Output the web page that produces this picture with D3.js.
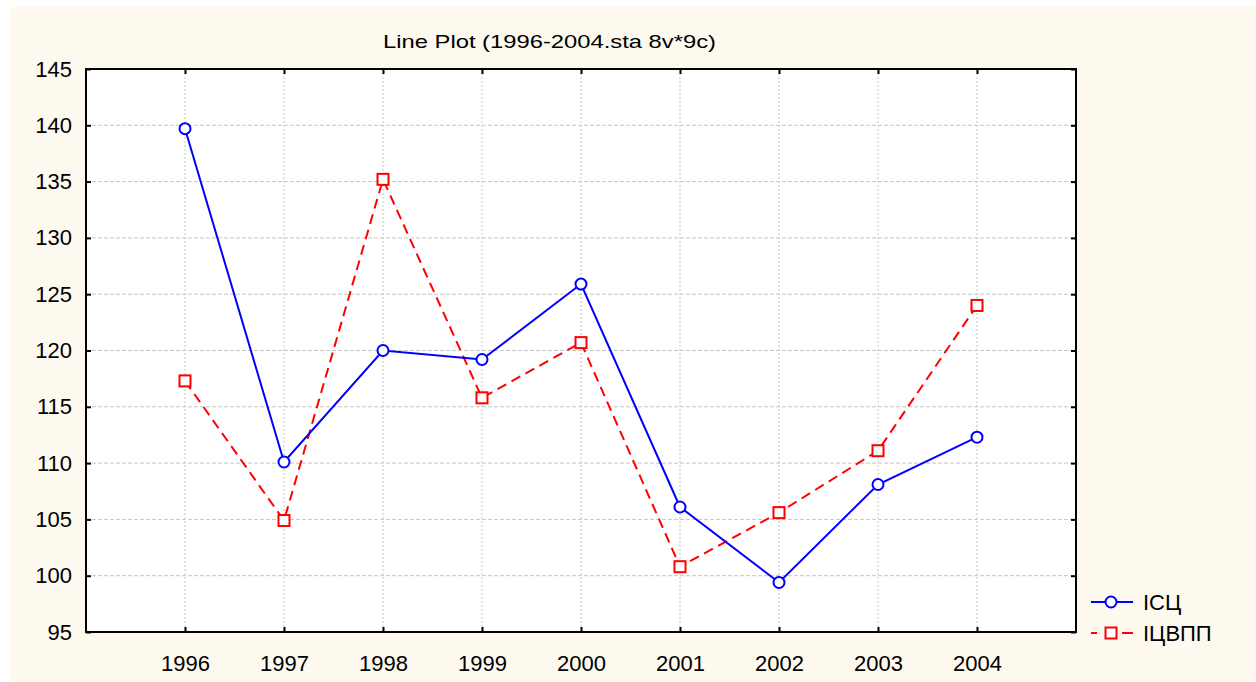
<!DOCTYPE html>
<html>
<head>
<meta charset="utf-8">
<script src="https://cdn.jsdelivr.net/npm/d3@7"></script>
<style>
  body { margin: 0; background: #fff; }
  svg { display: block; font-family: Arial, "Liberation Sans", sans-serif; }
</style>
</head>
<body>
<svg width="1256" height="682"></svg>
<script>
const years = [1996, 1997, 1998, 1999, 2000, 2001, 2002, 2003, 2004];
const iscValues = [139.7, 110.1, 120.0, 119.2, 125.9, 106.1, 99.4, 108.1, 112.3];
const icvppValues = [117.3, 104.9, 135.2, 115.8, 120.7, 100.8, 105.6, 111.1, 124.0];
const yTicks = [95, 100, 105, 110, 115, 120, 125, 130, 135, 140, 145];
const seriesNames = ['ІСЦ', 'ІЦВПП'];
const chartTitle = 'Line Plot (1996-2004.sta 8v*9c)';

const svg = d3.select('svg');
const pLeft = 86, pRight = 1076, pTop = 69, pBottom = 632;

// cream page area
svg.append('rect').attr('x', 10).attr('y', 7).attr('width', 1246).attr('height', 675)
  .attr('fill', '#fdf9ef');

const x = d3.scaleLinear().domain([1995, 2005]).range([pLeft, pRight]);
const y = d3.scaleLinear().domain([95, 145]).range([pBottom, pTop]);

svg.append('rect').attr('x', pLeft).attr('y', pTop)
  .attr('width', pRight - pLeft).attr('height', pBottom - pTop).attr('fill', '#fff');

// grid
svg.append('g').selectAll('line').data(yTicks.slice(1, -1)).join('line')
  .attr('x1', pLeft).attr('x2', pRight)
  .attr('y1', d => y(d)).attr('y2', d => y(d))
  .attr('stroke', '#c6c6c6').attr('stroke-dasharray', '4,2');
svg.append('g').selectAll('line').data(years).join('line')
  .attr('x1', d => x(d)).attr('x2', d => x(d))
  .attr('y1', pTop).attr('y2', pBottom)
  .attr('stroke', '#c6c6c6').attr('stroke-dasharray', '2,2');

// axes with inward ticks on all four sides
const axL = svg.append('g').attr('transform', `translate(${pLeft},0)`)
  .call(d3.axisLeft(y).tickValues(yTicks).tickSizeInner(-5).tickSizeOuter(0).tickPadding(14));
const axR = svg.append('g').attr('transform', `translate(${pRight},0)`)
  .call(d3.axisRight(y).tickValues(yTicks).tickSizeInner(-5).tickSizeOuter(0).tickFormat(''));
const axB = svg.append('g').attr('transform', `translate(0,${pBottom})`)
  .call(d3.axisBottom(x).tickValues(years).tickFormat(d3.format('d')).tickSizeInner(-5).tickSizeOuter(0).tickPadding(23));
const axT = svg.append('g').attr('transform', `translate(0,${pTop})`)
  .call(d3.axisTop(x).tickValues(years).tickSizeInner(-5).tickSizeOuter(0).tickFormat(''));
[axL, axR, axB, axT].forEach(a => {
  a.select('.domain').remove();
  a.selectAll('.tick line').attr('stroke', '#000').attr('stroke-width', 2);
  a.selectAll('text').attr('font-size', 22).attr('fill', '#000').attr('font-family', 'Arial, "Liberation Sans", sans-serif');
});

svg.append('rect').attr('x', pLeft).attr('y', pTop)
  .attr('width', pRight - pLeft).attr('height', pBottom - pTop)
  .attr('fill', 'none').attr('stroke', '#000').attr('stroke-width', 2);

// title
svg.append('text').attr('x', 383).attr('y', 48).attr('font-size', 19)
  .attr('textLength', 333).attr('lengthAdjust', 'spacingAndGlyphs')
  .text(chartTitle);

const line = d3.line().x((d, i) => x(years[i])).y(d => y(d));

svg.append('path').datum(icvppValues).attr('d', line)
  .attr('fill', 'none').attr('stroke', '#ff0000').attr('stroke-width', 2)
  .attr('stroke-dasharray', '10,6');
svg.append('path').datum(iscValues).attr('d', line)
  .attr('fill', 'none').attr('stroke', '#0000ff').attr('stroke-width', 2);

svg.append('g').selectAll('rect').data(icvppValues).join('rect')
  .attr('x', (d, i) => x(years[i]) - 5.5).attr('y', d => y(d) - 5.5)
  .attr('width', 11).attr('height', 11)
  .attr('fill', '#fff').attr('stroke', '#ff0000').attr('stroke-width', 2);
svg.append('g').selectAll('circle').data(iscValues).join('circle')
  .attr('cx', (d, i) => x(years[i])).attr('cy', d => y(d)).attr('r', 5.5)
  .attr('fill', '#fff').attr('stroke', '#0000ff').attr('stroke-width', 2);

// legend
const lg = svg.append('g');
lg.append('line').attr('x1', 1091).attr('x2', 1133).attr('y1', 602).attr('y2', 602)
  .attr('stroke', '#0000ff').attr('stroke-width', 2);
lg.append('circle').attr('cx', 1111).attr('cy', 602).attr('r', 5.5)
  .attr('fill', '#fff').attr('stroke', '#0000ff').attr('stroke-width', 2);
lg.append('line').attr('x1', 1091).attr('x2', 1133).attr('y1', 633).attr('y2', 633)
  .attr('stroke', '#ff0000').attr('stroke-width', 2).attr('stroke-dasharray', '6,25,11');
lg.append('rect').attr('x', 1105.5).attr('y', 627.5).attr('width', 11).attr('height', 11)
  .attr('fill', '#fff').attr('stroke', '#ff0000').attr('stroke-width', 2);
lg.selectAll('text').data(seriesNames).join('text')
  .attr('x', 1143).attr('y', (d, i) => 610 + i * 31)
  .attr('font-size', 22).text(d => d);
</script>
</body>
</html>
